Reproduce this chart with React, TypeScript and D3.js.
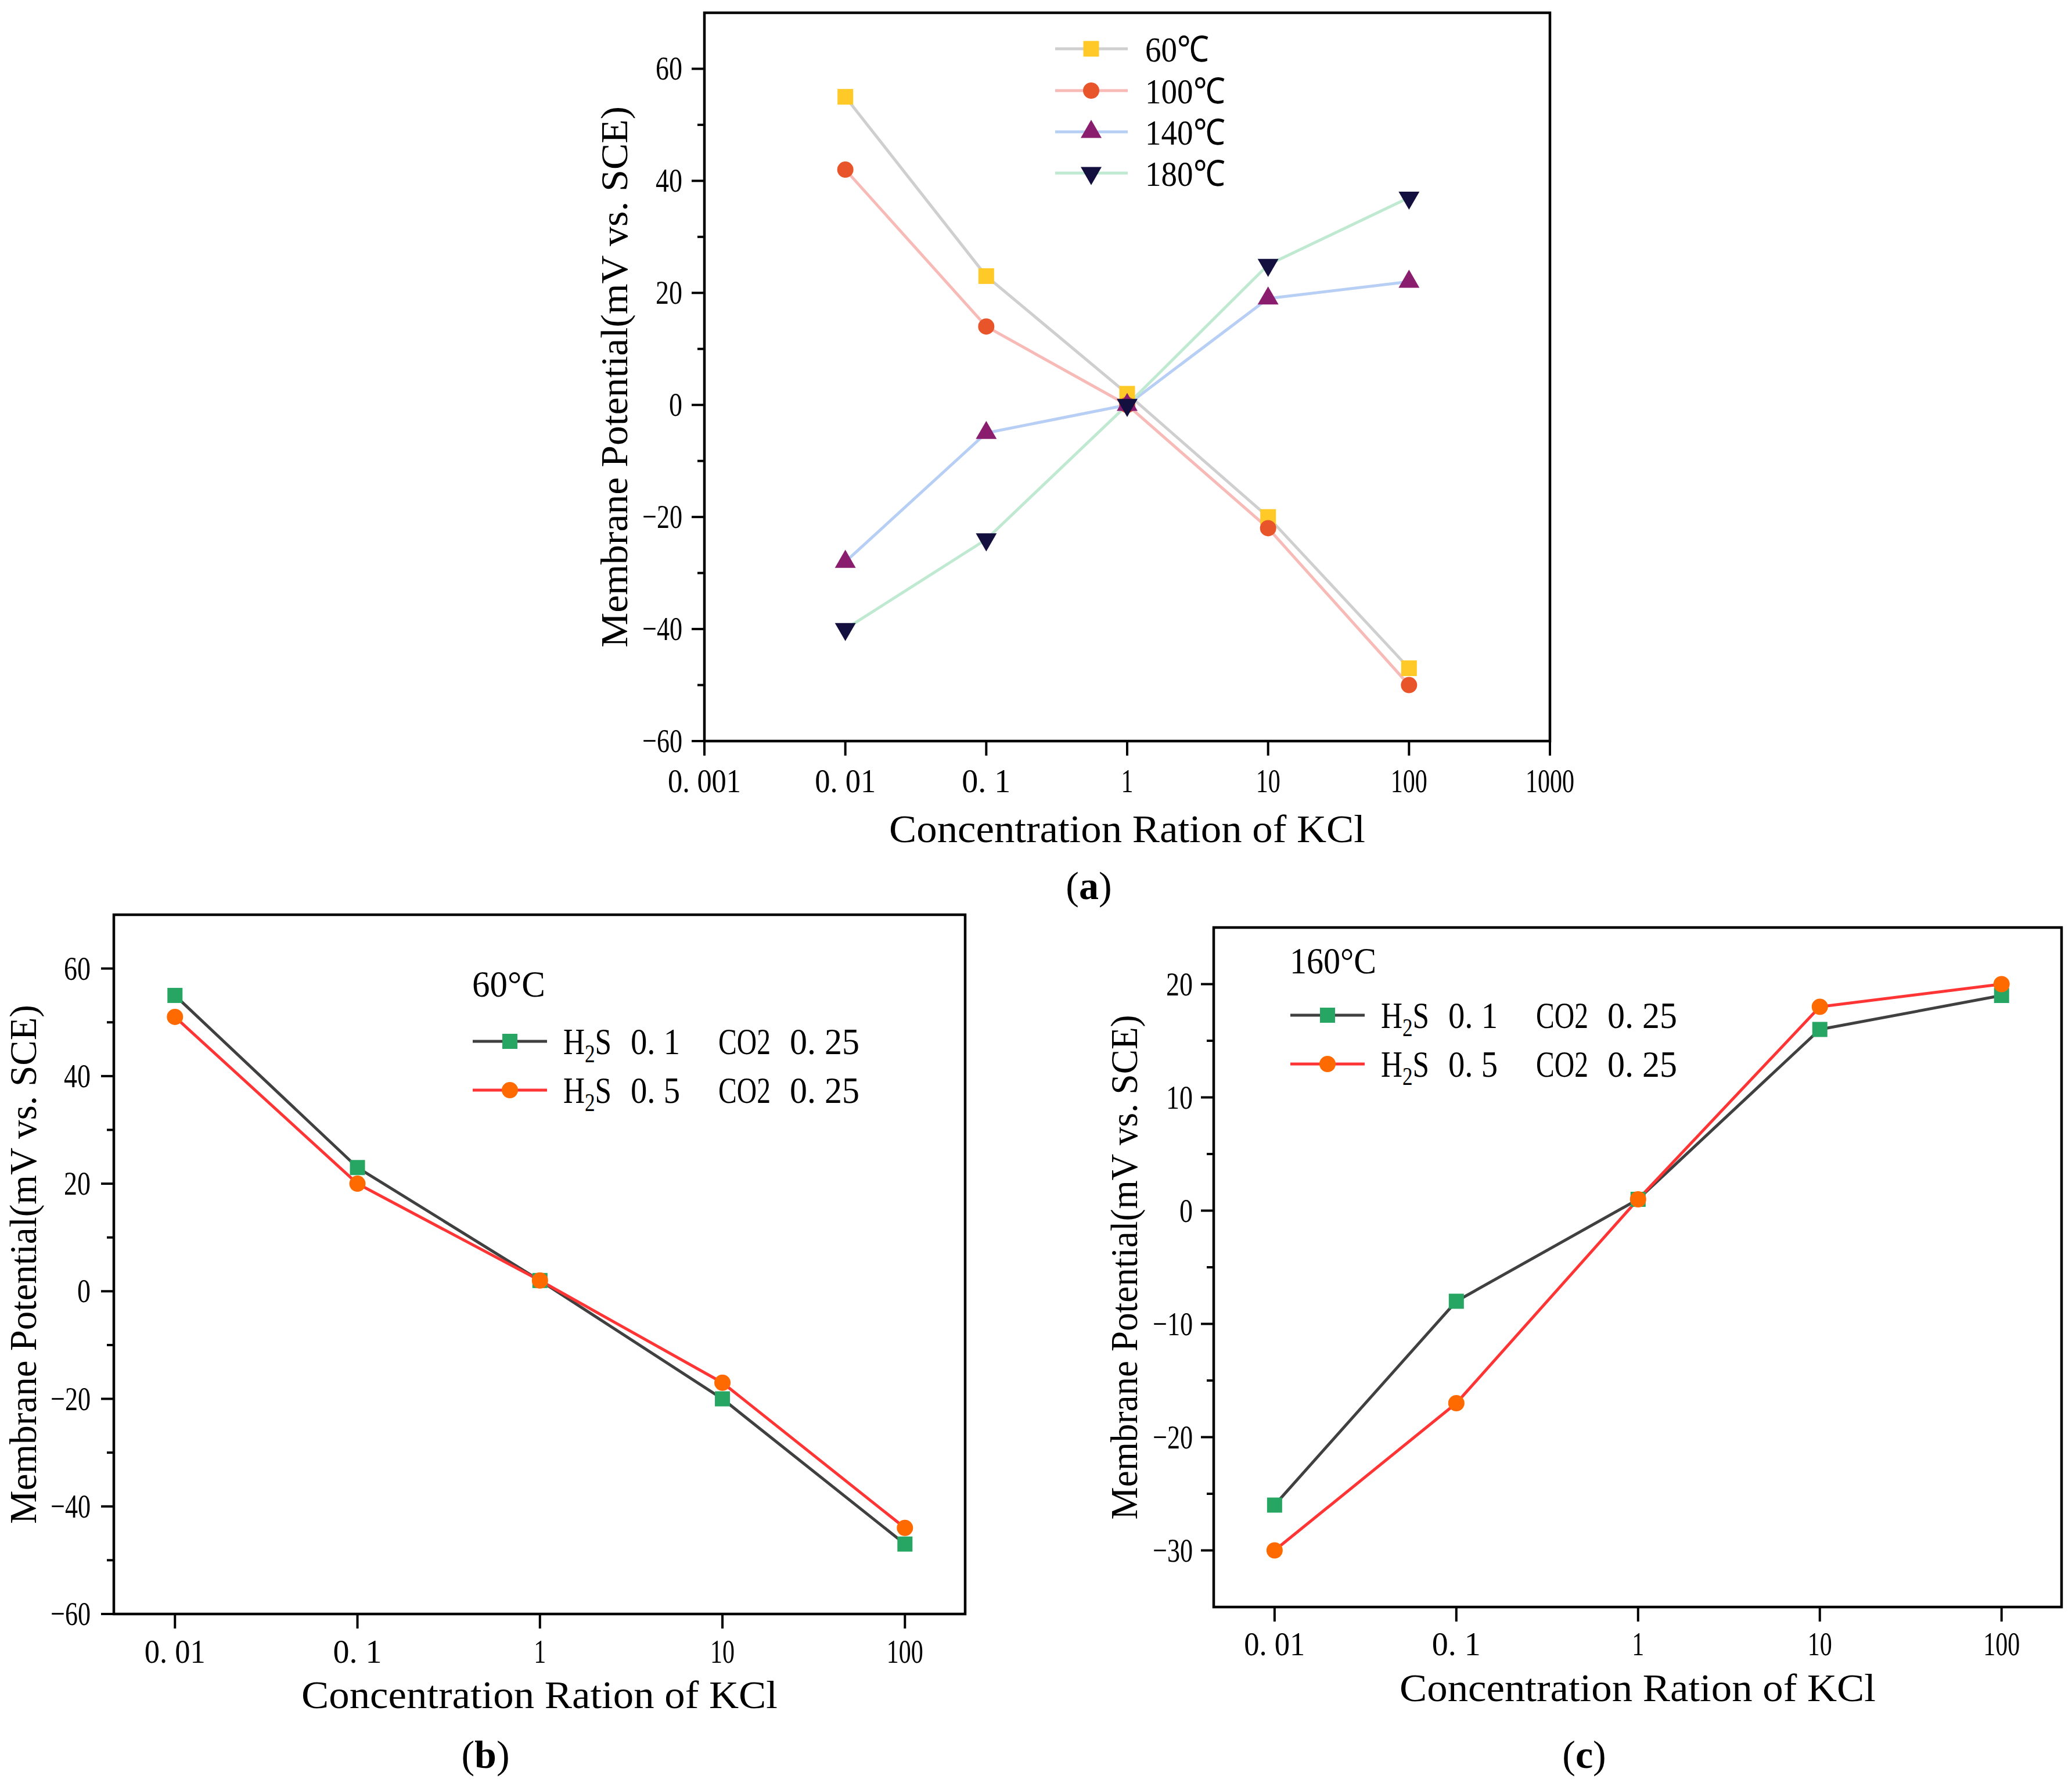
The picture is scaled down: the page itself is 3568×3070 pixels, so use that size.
import * as d3 from "d3"

// ---- data ----
const ratios = [0.01, 0.1, 1, 10, 100]
const ratioTicksA = [0.001, 0.01, 0.1, 1, 10, 100, 1000]
const ratioLabelsA = ["0. 001", "0. 01", "0. 1", "1", "10", "100", "1000"]
const ratioLabelsBC = ["0. 01", "0. 1", "1", "10", "100"]

const tempNames = ["60℃", "100℃", "140℃", "180℃"]
const mp60 = [55, 23, 2, -20, -47]
const mp100 = [42, 14, 0, -22, -50]
const mp140 = [-28, -5, 0, 19, 22]
const mp180 = [-40, -24, 0, 25, 37]

const gasRatios = ["0. 1", "0. 5"]
const gasCo2 = ["0. 25", "0. 25"]
const b60Low = [55, 23, 2, -20, -47]
const b60High = [51, 20, 2, -17, -44]
const c160Low = [-26, -8, 1, 16, 19]
const c160High = [-30, -17, 1, 18, 20]

const yTicksAB = [-60, -40, -20, 0, 20, 40, 60]
const yMinorAB = [-50, -30, -10, 10, 30, 50]
const yTicksC = [-30, -20, -10, 0, 10, 20]
const yMinorC = [-25, -15, -5, 5, 15]

const FONT = "'Liberation Serif', 'Times New Roman', serif"
const xTitle = "Concentration Ration of KCl"
const yTitle = "Membrane Potential(mV vs. SCE)"

type Shape = "square" | "circle" | "up" | "down"
interface Series {
  values: number[]
  line: string
  fill: string
  shape: Shape
  size: number
}

const units = (s: string) => {
  let n = 0
  for (const ch of s) n += ch === "℃" ? 2 : 1
  return n
}

const fmtY = (v: number) => (v < 0 ? "−" + Math.abs(v) : String(v))

function symbolPath(shape: Shape, size: number) {
  const type = shape === "square" ? d3.symbolSquare : shape === "circle" ? d3.symbolCircle : d3.symbolTriangle
  return d3.symbol().type(type).size(size)() as string
}

function Marker({ x, y, s }: { x: number; y: number; s: Series }) {
  const rot = s.shape === "down" ? " rotate(180)" : ""
  return <path d={symbolPath(s.shape, s.size)} transform={`translate(${x},${y})${rot}`} fill={s.fill} />
}

interface PanelProps {
  left: number
  right: number
  top: number
  bottom: number
  xDomain: [number, number]
  yDomain: [number, number]
  xTicks: number[]
  xLabels: string[]
  yTicks: number[]
  yMinor: number[]
  series: Series[]
  xLabelY: number
  yLabelX: number
  xTitleY: number
  yTitleX: number
  yTitleLen: number
  lineWidth: number
}

function Panel(p: PanelProps) {
  const x = d3.scaleLog().domain(p.xDomain).range([p.left, p.right])
  const y = d3.scaleLinear().domain(p.yDomain).range([p.bottom, p.top])
  const line = d3
    .line<number>()
    .x((_, i) => x(ratios[i]))
    .y((d) => y(d))
  const midX = (p.left + p.right) / 2
  const midY = (p.top + p.bottom) / 2

  return (
    <g fontFamily={FONT} fill="#000">
      {/* data lines */}
      {p.series.map((s, i) => (
        <path key={"l" + i} d={line(s.values) as string} fill="none" stroke={s.line} strokeWidth={p.lineWidth} strokeLinejoin="round" />
      ))}
      {p.series.map((s, i) =>
        s.values.map((v, j) => <Marker key={"m" + i + "-" + j} x={x(ratios[j])} y={y(v)} s={s} />)
      )}

      {/* frame */}
      <rect x={p.left} y={p.top} width={p.right - p.left} height={p.bottom - p.top} fill="none" stroke="#000" strokeWidth={4.5} />

      {/* x ticks */}
      {p.xTicks.map((t, i) => (
        <g key={"xt" + i}>
          <line x1={x(t)} x2={x(t)} y1={p.bottom} y2={p.bottom + 25} stroke="#000" strokeWidth={4} />
          <text x={x(t)} y={p.xLabelY} textAnchor="middle" fontSize={58} textLength={units(p.xLabels[i]) * 21} lengthAdjust="spacingAndGlyphs">
            {p.xLabels[i]}
          </text>
        </g>
      ))}

      {/* y ticks */}
      {p.yTicks.map((t) => (
        <g key={"yt" + t}>
          <line x1={p.left - 22} x2={p.left} y1={y(t)} y2={y(t)} stroke="#000" strokeWidth={4} />
          <text x={p.yLabelX} y={y(t) + 19} textAnchor="end" fontSize={58} textLength={units(fmtY(t)) * 23} lengthAdjust="spacingAndGlyphs">
            {fmtY(t)}
          </text>
        </g>
      ))}
      {p.yMinor.map((t) => (
        <line key={"ym" + t} x1={p.left - 12} x2={p.left} y1={y(t)} y2={y(t)} stroke="#000" strokeWidth={4} />
      ))}

      {/* axis titles */}
      <text x={midX} y={p.xTitleY} textAnchor="middle" fontSize={68} textLength={820} lengthAdjust="spacingAndGlyphs">
        {xTitle}
      </text>
      <text
        x={p.yTitleX}
        y={midY}
        textAnchor="middle"
        fontSize={66}
        textLength={p.yTitleLen}
        lengthAdjust="spacingAndGlyphs"
        transform={`rotate(-90,${p.yTitleX},${midY})`}
      >
        {yTitle}
      </text>
    </g>
  )
}

interface LegendProps {
  x0: number
  rows: number[]
  title: string
  titleY: number
  titleLen: number
  series: Series[]
}

function GasLegend({ x0, rows, title, titleY, titleLen, series }: LegendProps) {
  return (
    <g fontFamily={FONT} fill="#000">
      <text x={x0 - 1} y={titleY} fontSize={64} textLength={titleLen} lengthAdjust="spacingAndGlyphs">
        {title}
      </text>
      {series.map((s, i) => {
        const ry = rows[i]
        const tx = x0 + 156
        const by = ry + 22
        return (
          <g key={i}>
            <line x1={x0} x2={x0 + 128} y1={ry} y2={ry} stroke={s.line} strokeWidth={5} />
            <Marker x={x0 + 64} y={ry} s={s} />
            <g transform={`translate(${tx},${by}) scale(0.8,1)`}>
              <text x={0} y={0} fontSize={64}>
                H<tspan dy={14} fontSize={44}>2</tspan>
                <tspan dy={-14}>S</tspan>
              </text>
            </g>
            <text x={tx + 116} y={by} fontSize={64} textLength={85} lengthAdjust="spacingAndGlyphs">
              {gasRatios[i]}
            </text>
            <text x={tx + 267} y={by} fontSize={64} textLength={90} lengthAdjust="spacingAndGlyphs">
              CO2
            </text>
            <text x={tx + 390} y={by} fontSize={64} textLength={120} lengthAdjust="spacingAndGlyphs">
              {gasCo2[i]}
            </text>
          </g>
        )
      })}
    </g>
  )
}

function PanelLetter({ x, y, letter }: { x: number; y: number; letter: string }) {
  return (
    <text x={x} y={y} textAnchor="middle" fontFamily={FONT} fontSize={68} fill="#000">
      (<tspan fontWeight="bold">{letter}</tspan>)
    </text>
  )
}

export default function App() {
  const seriesA: Series[] = [
    { values: mp60, line: "#cfcfcf", fill: "#ffc928", shape: "square", size: 729 },
    { values: mp100, line: "#f8bab6", fill: "#e8552b", shape: "circle", size: 616 },
    { values: mp140, line: "#b8cff5", fill: "#8a1d6e", shape: "up", size: 560 },
    { values: mp180, line: "#bfe9d1", fill: "#13103f", shape: "down", size: 560 },
  ]
  const gasStyle = [
    { line: "#404040", fill: "#27a562", shape: "square" as Shape, size: 676 },
    { line: "#ff3535", fill: "#ff6a00", shape: "circle" as Shape, size: 616 },
  ]
  const seriesB: Series[] = [
    { values: b60Low, ...gasStyle[0] },
    { values: b60High, ...gasStyle[1] },
  ]
  const seriesC: Series[] = [
    { values: c160Low, ...gasStyle[0] },
    { values: c160High, ...gasStyle[1] },
  ]
  const xDomBC: [number, number] = [Math.pow(10, -2.335), Math.pow(10, 2.33)]
  const legendRowsA = [84, 156, 227, 298]

  return (
    <svg width={3568} height={3070} style={{ position: "absolute", left: 0, top: 0, background: "#fff" }}>
      <rect x={0} y={0} width={3568} height={3070} fill="#fff" />

      {/* (a) */}
      <Panel
        left={1213}
        right={2669}
        top={22}
        bottom={1276}
        xDomain={[0.001, 1000]}
        yDomain={[-60, 70]}
        xTicks={ratioTicksA}
        xLabels={ratioLabelsA}
        yTicks={yTicksAB}
        yMinor={yMinorAB}
        series={seriesA}
        xLabelY={1364}
        yLabelX={1175}
        xTitleY={1450}
        yTitleX={1080}
        yTitleLen={932}
        lineWidth={5}
      />
      <g fontFamily={FONT} fill="#000">
        {seriesA.map((s, i) => (
          <g key={i}>
            <line x1={1817} x2={1942} y1={legendRowsA[i]} y2={legendRowsA[i]} stroke={s.line} strokeWidth={5} />
            <Marker x={1879} y={legendRowsA[i]} s={s} />
            <text x={1972} y={legendRowsA[i] + 22} fontSize={62} textLength={units(tempNames[i]) * 27.5} lengthAdjust="spacingAndGlyphs">
              {tempNames[i]}
            </text>
          </g>
        ))}
      </g>
      <PanelLetter x={1875} y={1548} letter="a" />

      {/* (b) */}
      <Panel
        left={196}
        right={1662}
        top={1575}
        bottom={2779}
        xDomain={xDomBC}
        yDomain={[-60, 70]}
        xTicks={ratios}
        xLabels={ratioLabelsBC}
        yTicks={yTicksAB}
        yMinor={yMinorAB}
        series={seriesB}
        xLabelY={2863}
        yLabelX={156}
        xTitleY={2941}
        yTitleX={62}
        yTitleLen={894}
        lineWidth={5}
      />
      <GasLegend x0={814} rows={[1793, 1877]} title="60°C" titleY={1716} titleLen={126} series={seriesB} />
      <PanelLetter x={836} y={3044} letter="b" />

      {/* (c) */}
      <Panel
        left={2090}
        right={3550}
        top={1597}
        bottom={2767}
        xDomain={xDomBC}
        yDomain={[-35, 25]}
        xTicks={ratios}
        xLabels={ratioLabelsBC}
        yTicks={yTicksC}
        yMinor={yMinorC}
        series={seriesC}
        xLabelY={2850}
        yLabelX={2054}
        xTitleY={2929}
        yTitleX={1958}
        yTitleLen={869}
        lineWidth={5}
      />
      <GasLegend x0={2222} rows={[1748, 1832]} title="160°C" titleY={1676} titleLen={149} series={seriesC} />
      <PanelLetter x={2728} y={3044} letter="c" />
    </svg>
  )
}
